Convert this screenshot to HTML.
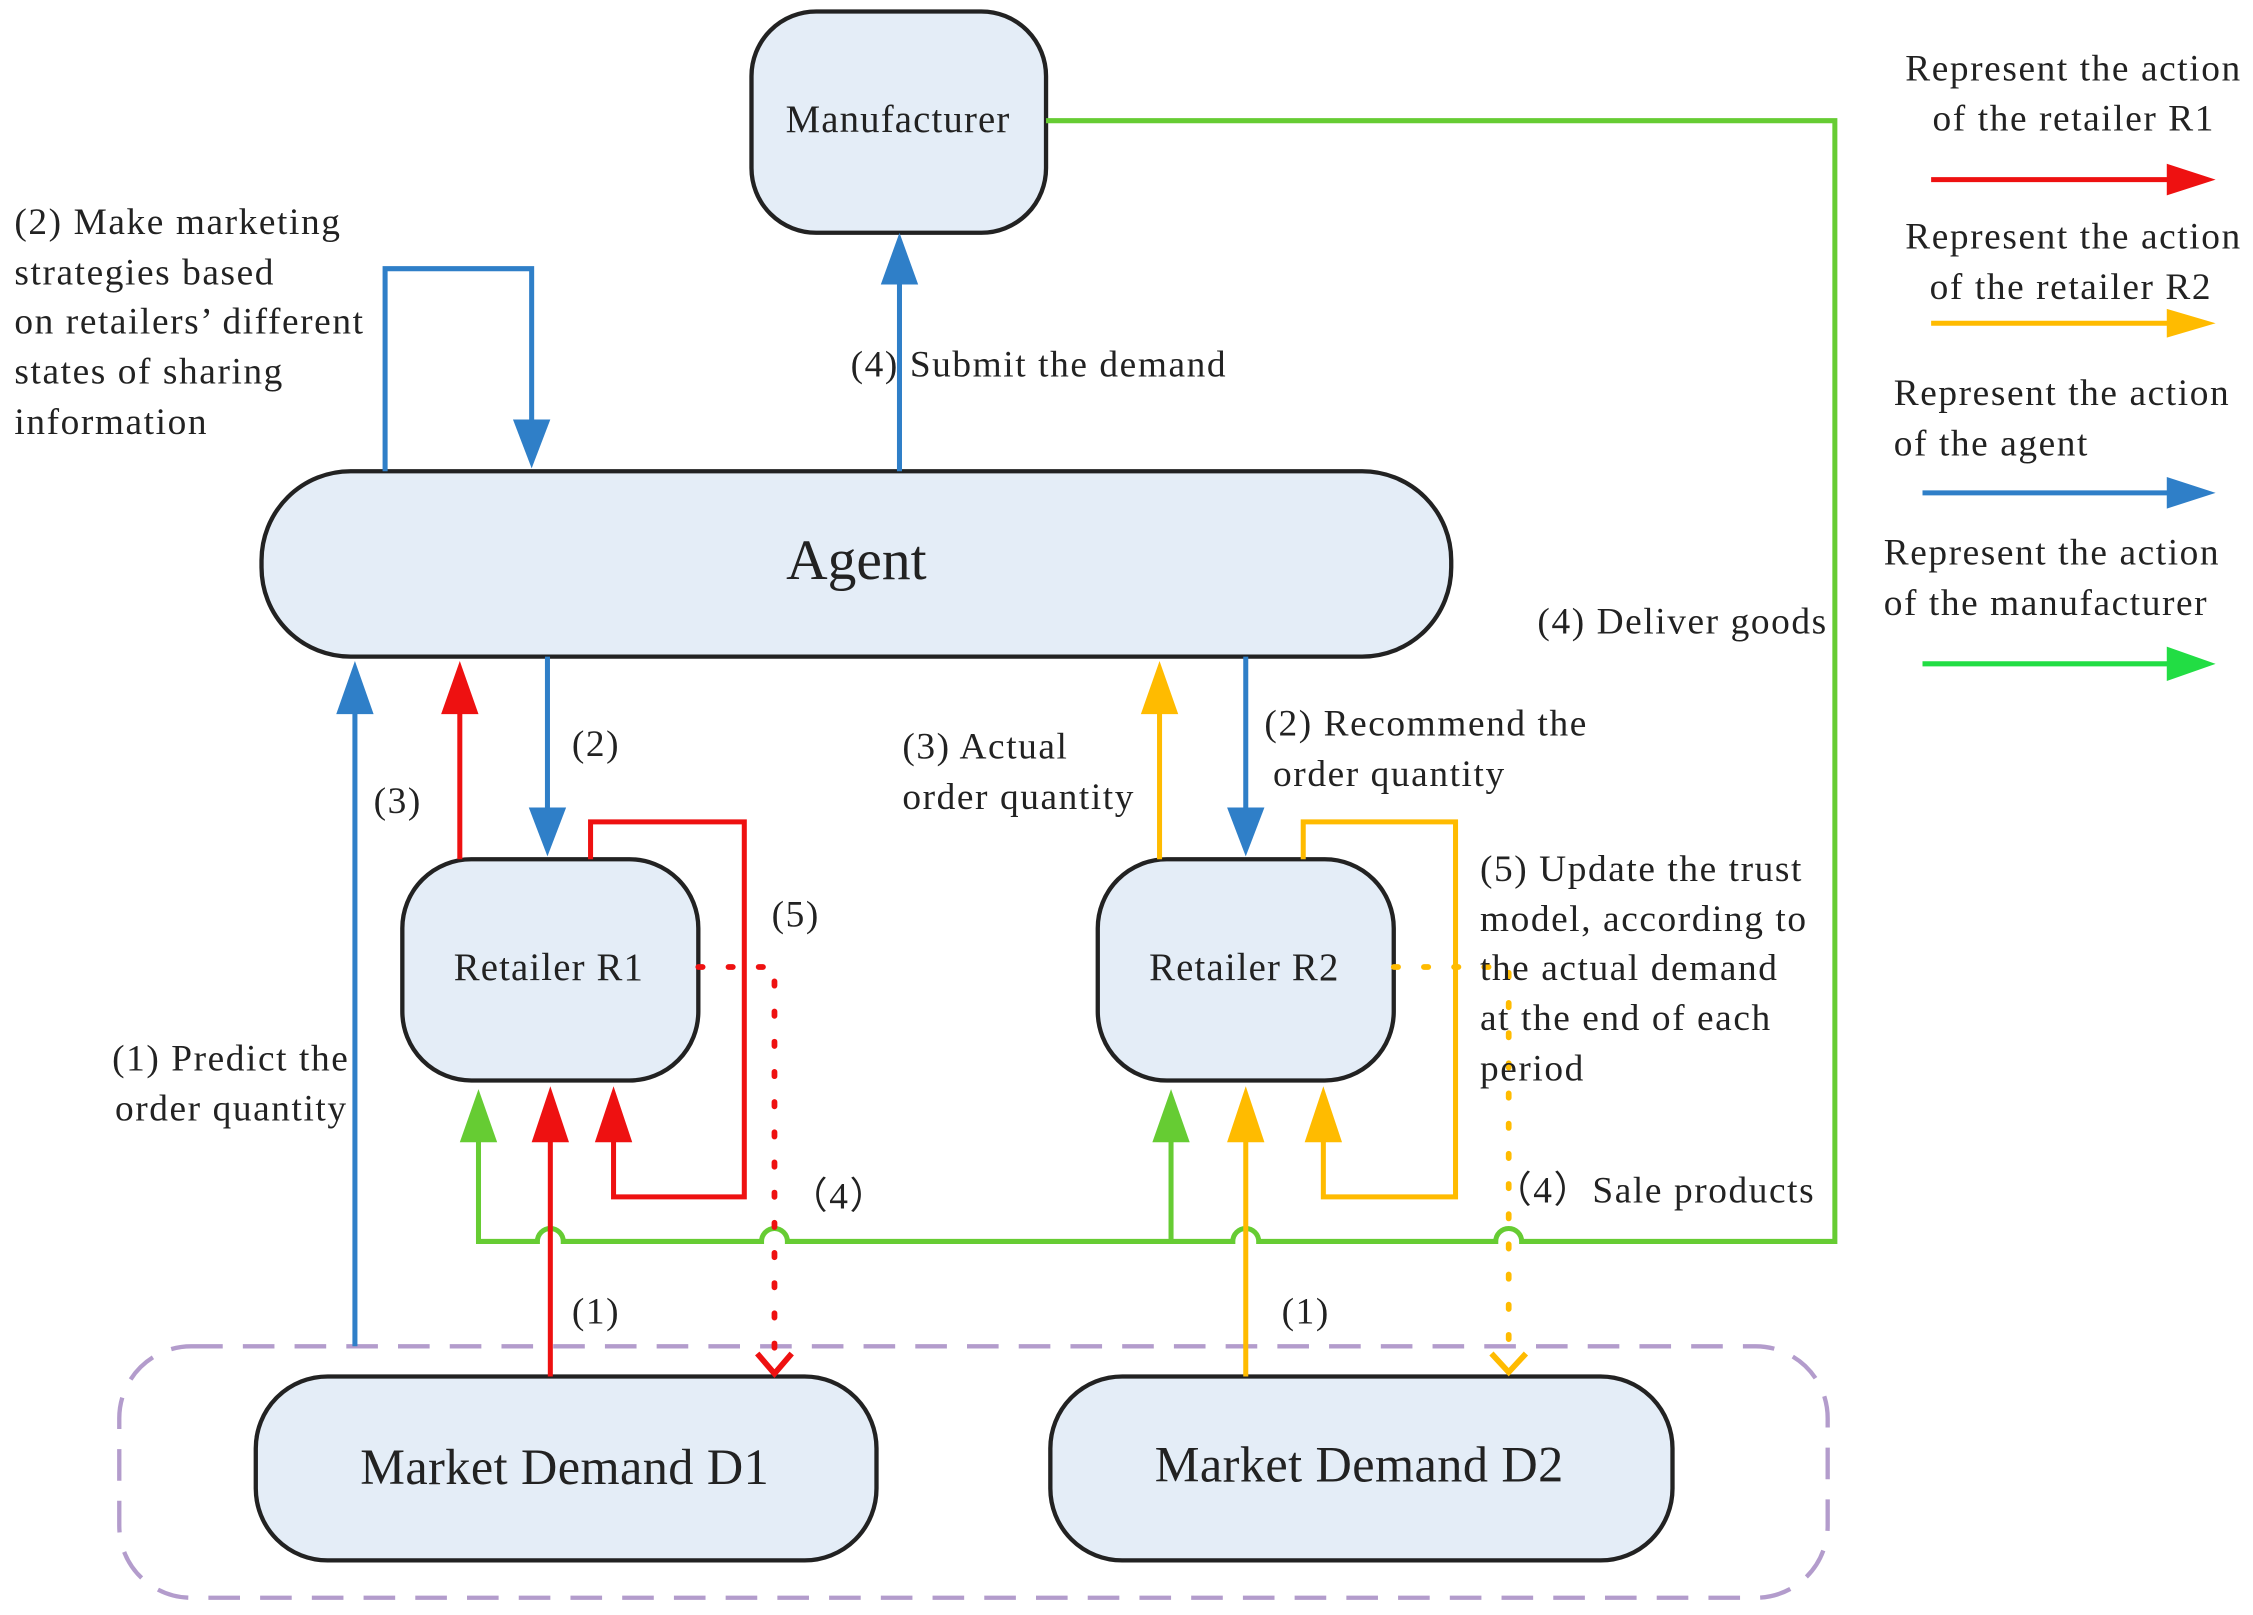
<!DOCTYPE html>
<html><head><meta charset="utf-8"><style>
html,body{margin:0;padding:0;background:#fff}
svg{display:block}
text{font-family:"Liberation Serif",serif;fill:#222}
</style></head><body>
<svg width="2253" height="1615" viewBox="0 0 1568 1124" xmlns="http://www.w3.org/2000/svg">
<!-- dashed group -->
<rect x="83" y="937" width="1189" height="175" rx="50" fill="none" stroke="#b39ccc" stroke-width="3" stroke-dasharray="22,14"/>
<!-- boxes -->
<g fill="#e4edf7" stroke="#222" stroke-width="3">
<rect x="523" y="8" width="205" height="154" rx="45"/>
<rect x="182" y="328" width="828" height="129" rx="62"/>
<rect x="280" y="598" width="206" height="154" rx="48"/>
<rect x="764" y="598" width="206" height="154" rx="48"/>
<rect x="178" y="958" width="432" height="128" rx="50"/>
<rect x="731" y="958" width="433" height="128" rx="50"/>
</g>
<g text-anchor="middle">
<text x="625" y="92" font-size="27" letter-spacing="0.8">Manufacturer</text>
<text x="596" y="403" font-size="40">Agent</text>
<text x="382" y="682" font-size="27" letter-spacing="0.8">Retailer R1</text>
<text x="866" y="682" font-size="27" letter-spacing="0.8">Retailer R2</text>
<text x="393" y="1033" font-size="35" letter-spacing="0.3">Market Demand D1</text>
<text x="946" y="1031" font-size="35" letter-spacing="0.3">Market Demand D2</text>
</g>
<!-- green -->
<g fill="none" stroke="#66cc33" stroke-width="3.5">
<path d="M728,84 H1277 V864 H1059 a9,9 0 0 0 -18,0 H876 a9,9 0 0 0 -18,0 H548 a9,9 0 0 0 -18,0 H392 a9,9 0 0 0 -18,0 H333 V790"/>
<path d="M815,864 V790"/>
</g>
<g fill="#66cc33"><path d="M320,795 L333,758 L346,795z"/><path d="M802,795 L815,758 L828,795z"/></g>
<!-- blue -->
<g fill="none" stroke="#2f7fc8" stroke-width="3.5">
<path d="M268,328 V187 H370 V295"/>
<path d="M626,328 V195"/>
<path d="M247,937 V495"/>
<path d="M381,457 V565"/>
<path d="M867,457 V565"/>
</g>
<g fill="#2f7fc8">
<path d="M357,292 L370,326 L383,292z"/>
<path d="M613,198 L626,162 L639,198z"/>
<path d="M234,497 L247,460 L260,497z"/>
<path d="M368,562 L381,596 L394,562z"/>
<path d="M854,562 L867,596 L880,562z"/>
</g>
<!-- red -->
<g fill="none" stroke="#ee1111" stroke-width="3.5">
<path d="M320,598 V495"/>
<path d="M383,958 V790"/>
<path d="M411,598 V572 H518 V833 H427 V790"/>
</g>
<path d="M486,673 H539 V950" fill="none" stroke="#ee1111" stroke-width="4" stroke-dasharray="3,18" stroke-linecap="round"/>
<path d="M527,942 L539,956 L551,942" fill="none" stroke="#ee1111" stroke-width="4"/>
<g fill="#ee1111">
<path d="M307,497 L320,460 L333,497z"/>
<path d="M370,795 L383,756 L396,795z"/>
<path d="M414,795 L427,756 L440,795z"/>
</g>
<!-- yellow -->
<g fill="none" stroke="#ffbb00" stroke-width="3.5">
<path d="M807,598 V495"/>
<path d="M867,958 V790"/>
<path d="M907,598 V572 H1013 V833 H921 V790"/>
</g>
<path d="M970,673 H1050 V950" fill="none" stroke="#ffbb00" stroke-width="4" stroke-dasharray="3,18" stroke-linecap="round"/>
<path d="M1038,942 L1050,955 L1062,942" fill="none" stroke="#ffbb00" stroke-width="4"/>
<g fill="#ffbb00">
<path d="M794,497 L807,460 L820,497z"/>
<path d="M854,795 L867,756 L880,795z"/>
<path d="M908,795 L921,756 L934,795z"/>
</g>
<!-- legend arrows -->
<g stroke-width="3.5">
<line x1="1344" y1="125" x2="1510" y2="125" stroke="#ee1111"/><path d="M1508,114 L1542,125 L1508,136z" fill="#ee1111"/>
<line x1="1344" y1="225" x2="1510" y2="225" stroke="#ffbb00"/><path d="M1508,215 L1542,225 L1508,235z" fill="#ffbb00"/>
<line x1="1338" y1="343" x2="1510" y2="343" stroke="#2f7fc8"/><path d="M1508,332 L1542,343 L1508,354z" fill="#2f7fc8"/>
<line x1="1338" y1="462" x2="1510" y2="462" stroke="#22dd44"/><path d="M1508,450 L1542,462 L1508,474z" fill="#22dd44"/>
</g>
<!-- labels -->
<g font-size="26" letter-spacing="1.1">
<text x="1326" y="56">Represent the action</text>
<text x="1345" y="91">of the retailer R1</text>
<text x="1326" y="173">Represent the action</text>
<text x="1343" y="208">of the retailer R2</text>
<text x="1318" y="282">Represent the action</text>
<text x="1318" y="317">of the agent</text>
<text x="1311" y="393">Represent the action</text>
<text x="1311" y="428">of the manufacturer</text>
<text x="10" y="163">(2) Make marketing</text>
<text x="10" y="198">strategies based</text>
<text x="10" y="232">on retailers’ different</text>
<text x="10" y="267">states of sharing</text>
<text x="10" y="302">information</text>
<text x="592" y="262">(4) Submit the demand</text>
<text x="1070" y="441">(4) Deliver goods</text>
<text x="398" y="526">(2)</text>
<text x="260" y="566">(3)</text>
<text x="628" y="528">(3) Actual</text>
<text x="628" y="563">order quantity</text>
<text x="880" y="512">(2) Recommend the</text>
<text x="886" y="547">order quantity</text>
<text x="537" y="645">(5)</text>
<text x="1030" y="613">(5) Update the trust</text>
<text x="1030" y="648">model, according to</text>
<text x="1030" y="682">the actual demand</text>
<text x="1030" y="717">at the end of each</text>
<text x="1030" y="752">period</text>
<text x="78" y="745">(1) Predict the</text>
<text x="80" y="780">order quantity</text>
<text x="550" y="841">（4）</text>
<text x="1040" y="837">（4）Sale products</text>
<text x="398" y="921">(1)</text>
<text x="892" y="921">(1)</text>
</g>
</svg>
</body></html>
